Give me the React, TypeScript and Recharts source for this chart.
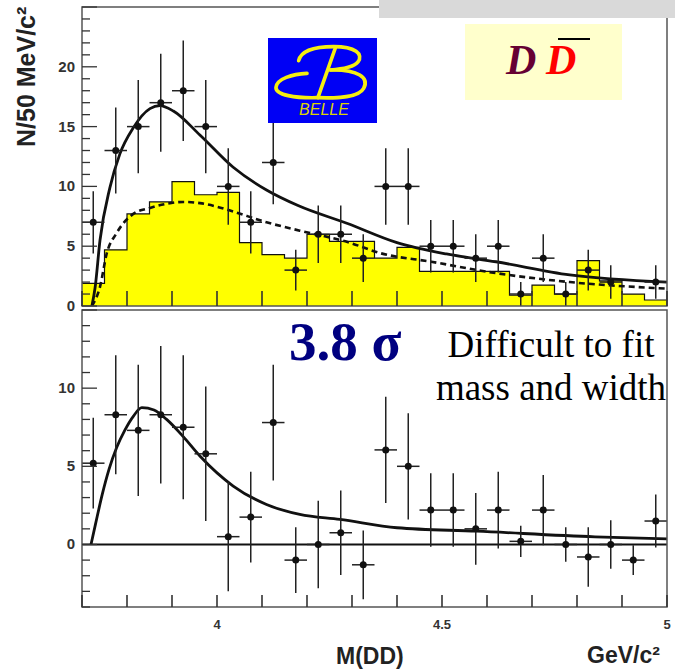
import React from 'react'
import {
  ComposedChart, XAxis, YAxis, Area, Line, Scatter, ErrorBar,
  ReferenceArea, ReferenceLine,
} from 'recharts'

const W = 675
const H = 670

// 50 MeV/c^2 bins, 3.70 .. 5.00 GeV/c^2
const BIN_EDGES = [
  3.70, 3.75, 3.80, 3.85, 3.90, 3.95, 4.00, 4.05, 4.10, 4.15, 4.20, 4.25, 4.30, 4.35,
  4.40, 4.45, 4.50, 4.55, 4.60, 4.65, 4.70, 4.75, 4.80, 4.85, 4.90, 4.95, 5.00,
]

const X_TICKS = [3.7, 3.8, 3.9, 4.0, 4.1, 4.2, 4.3, 4.4, 4.5, 4.6, 4.7, 4.8, 4.9, 5.0]
const X_LABELS = [4, 4.5, 5]

// upper panel: D Dbar candidates per bin (empty bin = null)
const UP_COUNTS = [7, 13, 15, 17, 18, 15, 10, 7, 12, 3, 6, 6, 4, 10, 10, 5, 5, 4, 5, 1, 4, 1, 3, 2, null, 2]
const UP_ERRORS = [2.6, 3.6, 3.9, 4.1, 4.2, 3.9, 3.2, 2.6, 3.5, 1.7, 2.4, 2.4, 2.0, 3.2, 3.2, 2.2, 2.2, 2.0, 2.2, 1.0, 2.0, 1.0, 1.7, 1.4, null, 1.4]

// sideband background (yellow histogram)
const SIDEBAND = [1.9, 4.7, 7.7, 8.7, 10.4, 9.3, 9.5, 5.3, 4.3, 4.0, 6.0, 5.4, 5.4, 4.0, 4.9, 2.9, 2.9, 2.9, 2.9, 0.9, 1.75, 1.0, 3.8, 2.1, 1.0, 0.5]

// fit curves, upper panel
const TOTAL_X = [3.722, 3.729, 3.74, 3.762, 3.784, 3.814, 3.851, 3.873, 3.903, 3.962, 4.036, 4.11, 4.18, 4.29, 4.4, 4.51, 4.62, 4.784, 5.0]
const TOTAL_Y = [0, 1.5, 5.5, 9.9, 12.7, 14.9, 16.5, 16.75, 16.3, 14.3, 11.6, 9.7, 8.4, 6.9, 5.3, 4.35, 3.7, 2.6, 2.0]
const BKG_X = [3.722, 3.74, 3.755, 3.777, 3.814, 3.851, 3.888, 3.925, 3.962, 4.0, 4.036, 4.11, 4.184, 4.29, 4.365, 4.476, 4.62, 4.784, 5.0]
const BKG_Y = [0, 1.6, 4.4, 6.1, 7.7, 8.2, 8.55, 8.7, 8.6, 8.3, 7.9, 7.0, 6.3, 5.35, 4.4, 3.7, 2.75, 2.0, 1.45]

// lower panel: sideband-subtracted yield
const SUB_VALUES = [5.2, 8.3, 7.3, 8.3, 7.5, 5.8, 0.5, 1.75, 7.8, -1.0, 0.0, 0.75, -1.3, 6.05, 5.0, 2.2, 2.2, 1.0, 2.2, 0.2, 2.2, 0.0, -0.8, 0.0, -1.0, 1.5]
const SUB_ERRORS = [2.9, 3.8, 4.2, 4.4, 4.6, 4.3, 3.5, 2.9, 3.7, 2.1, 2.8, 2.7, 2.2, 3.4, 3.4, 2.35, 2.35, 2.3, 2.45, 1.0, 2.25, 1.1, 1.9, 1.55, 0.95, 1.7]

const SIG_X = [3.72, 3.73, 3.745, 3.76, 3.777, 3.795, 3.814, 3.833, 3.86, 3.888, 3.925, 3.962, 4.036, 4.11, 4.184, 4.273, 4.4, 4.577, 4.84, 5.0]
const SIG_Y = [0, 1.3, 3.2, 4.8, 6.2, 7.3, 8.2, 8.75, 8.6, 8.0, 6.9, 5.66, 3.74, 2.56, 1.92, 1.6, 1.07, 0.85, 0.49, 0.36]

const UP_Y_TICKS = Array.from({ length: 26 }, (_, i) => i)
const UP_Y_LABELS = [0, 5, 10, 15, 20]
const LO_Y_TICKS = Array.from({ length: 20 }, (_, i) => i - 4)
const LO_Y_LABELS = [0, 5, 10]

const FRAME = '#555'
const TICK = '#333'
const INK = '#111'
const YELLOW = '#ffff00'
const SANS = '"Liberation Sans", Arial, sans-serif'
const SERIF = '"Liberation Serif", "Times New Roman", serif'

// rows for the library
const lows = BIN_EDGES.slice(0, -1)
const centers = lows.map((lo, i) => (lo + BIN_EDGES[i + 1]) / 2)
const halfWidth = (BIN_EDGES[1] - BIN_EDGES[0]) / 2

const histRows = BIN_EDGES.map((x, i) => ({ x, y: SIDEBAND[Math.min(i, SIDEBAND.length - 1)] }))
const upPoints = centers
  .map((x, i) => ({ x, y: UP_COUNTS[i], ey: UP_ERRORS[i], ex: halfWidth }))
  .filter(p => p.y !== null)
const loPoints = centers.map((x, i) => ({ x, y: SUB_VALUES[i], ey: SUB_ERRORS[i], ex: halfWidth }))
const totalRows = TOTAL_X.map((x, i) => ({ x, y: TOTAL_Y[i] }))
const bkgRows = BKG_X.map((x, i) => ({ x, y: BKG_Y[i] }))
const sigRows = SIG_X.map((x, i) => ({ x, y: SIG_Y[i] }))

const near = (list: number[], v: number) => list.some(l => Math.abs(l - v) < 1e-6)

// ticks point into the frame, labels sit outside
function XTick(props: any) {
  const { x, y, payload, len, labelled } = props
  const v = payload.value
  return (
    <g>
      <line x1={x} y1={y} x2={x} y2={y - len} stroke={TICK} strokeWidth={1.6} />
      {labelled && near(X_LABELS, v) && (
        <text x={x} y={y + 22} textAnchor="middle" fontFamily={SANS} fontWeight="bold" fontSize={13} fill="#333">
          {String(v)}
        </text>
      )}
    </g>
  )
}

function YTick(props: any) {
  const { x, y, payload, labels } = props
  const v = payload.value
  const major = v % 5 === 0
  return (
    <g>
      <line x1={x} y1={y} x2={x + (major ? 15 : 8)} y2={y} stroke={TICK} strokeWidth={1.3} />
      {near(labels, v) && (
        <text x={x - 7} y={y + 5} textAnchor="end" fontFamily={SANS} fontWeight="bold" fontSize={15} fill="#333">
          {String(v)}
        </text>
      )}
    </g>
  )
}

const dot = (p: any) => <circle cx={p.cx} cy={p.cy} r={3.5} fill={INK} />

interface PanelProps {
  top: number
  bottom: number
  yDomain: [number, number]
  children?: React.ReactNode
}

// one pad of the plot; margins place its frame on the page
function Panel({ top, bottom, yDomain, children }: PanelProps) {
  return (
    <div style={{ position: 'absolute', left: 0, top: 0 }}>
      <ComposedChart width={W} height={H} margin={{ top, right: 8, bottom: H - bottom - 1, left: 81 }}>
        <XAxis
          type="number" dataKey="x" domain={[3.7, 5.0]} ticks={X_TICKS} interval={0}
          allowDataOverflow height={1} tick={false} axisLine={false} tickLine={false}
        />
        <YAxis
          type="number" domain={yDomain} allowDataOverflow width={1}
          tick={false} axisLine={false} tickLine={false}
        />
        {children}
      </ComposedChart>
    </div>
  )
}

// tick marks and frame drawn over the series
function Axes({ top, bottom, yDomain, yTicks, yLabels, xLen, labelled }: any) {
  return (
    <div style={{ position: 'absolute', left: 0, top: 0 }}>
      <ComposedChart width={W} height={H} margin={{ top, right: 8, bottom: H - bottom - 1, left: 81 }}>
        <XAxis
          type="number" dataKey="x" domain={[3.7, 5.0]} ticks={X_TICKS} interval={0}
          allowDataOverflow height={1} tickSize={0} tickMargin={0} axisLine={false} tickLine={false}
          tick={(p: any) => <XTick {...p} len={xLen} labelled={labelled} />}
        />
        <YAxis
          type="number" domain={yDomain} ticks={yTicks} interval={0}
          allowDataOverflow width={1} tickSize={0} tickMargin={0} axisLine={false} tickLine={false}
          tick={(p: any) => <YTick {...p} labels={yLabels} />}
        />
        <ReferenceArea x1={3.7} x2={5.0} y1={yDomain[0]} y2={yDomain[1]} fill="none" stroke={FRAME} strokeWidth={1.5} ifOverflow="visible" />
      </ComposedChart>
    </div>
  )
}

export default function App() {
  return (
    <div style={{ position: 'absolute', left: 0, top: 0, width: W, height: H, background: '#fff' }}>

      {/* upper pad: data, sideband histogram, total and background fits */}
      <Panel top={7} bottom={306} yDomain={[0, 25]}>
        <Area
          data={histRows} dataKey="y" type="stepAfter" baseValue={0}
          fill={YELLOW} fillOpacity={1} stroke={INK} strokeWidth={1.2}
          isAnimationActive={false}
        />
        <Line data={bkgRows} dataKey="y" type="monotone" stroke={INK} strokeWidth={2.6}
          strokeDasharray="6 4" dot={false} isAnimationActive={false} />
        <Line data={totalRows} dataKey="y" type="monotone" stroke={INK} strokeWidth={2.8}
          dot={false} isAnimationActive={false} />
        <Scatter data={upPoints} dataKey="y" shape={dot} isAnimationActive={false}>
          <ErrorBar dataKey="ey" direction="y" width={0} stroke="#222" strokeWidth={1.5} />
          <ErrorBar dataKey="ex" direction="x" width={0} stroke="#222" strokeWidth={1.5} />
        </Scatter>
      </Panel>
      <Axes top={7} bottom={306} yDomain={[0, 25]} yTicks={UP_Y_TICKS} yLabels={UP_Y_LABELS} xLen={15} labelled={false} />

      {/* lower pad: sideband-subtracted yield with signal fit */}
      <Panel top={310} bottom={607} yDomain={[-4, 15]}>
        <ReferenceLine y={0} stroke={INK} strokeWidth={2} />
        <Line data={sigRows} dataKey="y" type="monotone" stroke={INK} strokeWidth={2.8}
          dot={false} isAnimationActive={false} />
        <Scatter data={loPoints} dataKey="y" shape={dot} isAnimationActive={false}>
          <ErrorBar dataKey="ey" direction="y" width={0} stroke="#222" strokeWidth={1.5} />
          <ErrorBar dataKey="ex" direction="x" width={0} stroke="#222" strokeWidth={1.5} />
        </Scatter>
      </Panel>
      <Axes top={310} bottom={607} yDomain={[-4, 15]} yTicks={LO_Y_TICKS} yLabels={LO_Y_LABELS} xLen={12} labelled />

      {/* titles, logo and annotations */}
      <svg width={W} height={H} style={{ position: 'absolute', left: 0, top: 0, pointerEvents: 'none' }}>
        <rect x={379} y={0} width={296} height={18} fill="#d9d9d9" />

        <rect x={268} y={38} width={109} height={85} fill="#0000f5" />
        <g transform="translate(262,34) scale(0.3333)" fill="none" stroke="#f5ee10" strokeWidth={11} strokeLinecap="round">
          <path d="M 110 80 C 118 48, 160 38, 215 38 C 280 38, 305 60, 288 84 C 274 102, 240 106, 205 108" />
          <path d="M 220 42 L 168 190" />
          <path d="M 205 108 C 290 106, 322 132, 305 163 C 290 190, 230 193, 168 191" />
          <path d="M 168 191 C 100 193, 40 183, 42 160 C 44 134, 92 120, 135 118" />
        </g>
        <text x={324} y={115} textAnchor="middle" fontFamily={SANS} fontStyle="italic" fontSize={16} fill="#dcd400">BELLE</text>

        <rect x={465} y={24} width={157} height={76} fill="#ffffcc" />
        <text x={506} y={74} fontFamily={SERIF} fontWeight="bold" fontStyle="italic" fontSize={42} fill="#660033">D</text>
        <text x={546} y={74} fontFamily={SERIF} fontWeight="bold" fontStyle="italic" fontSize={42} fill="#ff0000">D</text>
        <line x1={558} y1={39} x2={590} y2={39} stroke="#000" strokeWidth={2} />

        <text x={289} y={360} fontFamily={SERIF} fontWeight="bold" fontSize={55} fill="#000080">3.8 σ</text>
        <text x={551} y={357} textAnchor="middle" fontFamily={SERIF} fontSize={37} fill="#000">Difficult to fit</text>
        <text x={551} y={400} textAnchor="middle" fontFamily={SERIF} fontSize={37} fill="#000">mass and width</text>

        <text x={35} y={147} transform="rotate(-90, 35, 147)" fontFamily={SANS} fontWeight="bold" fontSize={25} fill="#222">N/50 MeV/c²</text>
        <text x={336} y={664} fontFamily={SANS} fontWeight="bold" fontSize={23} fill="#222">M(DD)</text>
        <text x={587} y={663} fontFamily={SANS} fontWeight="bold" fontSize={23} fill="#222">GeV/c²</text>
      </svg>
    </div>
  )
}
